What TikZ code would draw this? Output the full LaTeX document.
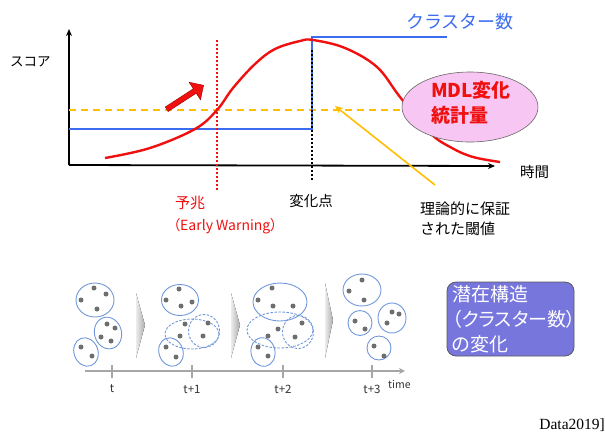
\documentclass[tikz,border=0pt]{standalone}
\usepackage{fontspec}
\setmainfont{Noto Sans CJK JP}
\newfontfamily\propjp[RawFeature=+palt]{Noto Sans CJK JP}
\newfontfamily\serifft{Liberation Serif}
\usetikzlibrary{arrows.meta,shapes.geometric,shapes.arrows}
\definecolor{lineblue}{HTML}{3A6BF0}
\definecolor{clblue}{HTML}{7097DA}
\definecolor{dotgray}{HTML}{6E6E6E}
\definecolor{ored}{HTML}{F01010}
\definecolor{oyellow}{HTML}{FFBE00}
\definecolor{pinkfill}{HTML}{F8C6F2}
\definecolor{boxblue}{HTML}{7676DC}
\tikzset{
  axis/.style={line width=1.8pt,-{Stealth[length=7pt,width=6pt]}},
  lbl/.style={inner sep=0pt,font=\fontsize{14.5}{16}\selectfont},
  cl/.style={draw=clblue,line width=0.9pt,ellipse,inner sep=0pt},
  cld/.style={draw=clblue,line width=0.9pt,dashed,dash pattern=on 2.5pt off 1.5pt,ellipse,inner sep=0pt},
  dt/.style={circle,fill=dotgray,inner sep=0pt,minimum size=5pt},
  chev/.style={left color=gray!15,right color=gray!65,draw=none},
  tick/.style={line width=1.2pt,draw=gray!70},
  tlbl/.style={inner sep=0pt,font=\fontsize{11.5}{13}\selectfont,text=black!80}
}
\begin{document}
\begin{tikzpicture}[x=1pt,y=-1pt]
\useasboundingbox (0,0) rectangle (605,432);
% axes
\coordinate (O) at (69,165);
\coordinate (ytop) at (69,29);
\coordinate (xend) at (495,166);
\draw[axis] (O) -- (ytop);
\draw[axis] (O) -- (xend);
\node[lbl,anchor=west,font=\fontsize{13.5}{15}\selectfont] (score) at (10,62) {スコア};
\node[lbl,anchor=west] (time) at (520,172) {時間};
% dashed threshold
\coordinate (th0) at (69,110);
\coordinate (th1) at (402,110);
\draw[oyellow,line width=1.8pt,dash pattern=on 7pt off 5pt] (th0) -- (th1);
% blue cluster count step
\coordinate (b0) at (69,129);
\coordinate (b1) at (312,129);
\coordinate (b2) at (312,37);
\coordinate (b3) at (447,37);
\draw[lineblue,line width=1.8pt] (b0) -- (b1) -- (b2) -- (b3);
% red curve
\draw[ored,line width=2.4pt] plot[smooth,tension=0.6] coordinates {(105,158) (150,148) (195,129) (217,110) (233,88) (255,64) (275,49) (300,41) (313,40) (345,48) (377,67) (400,97) (430,133) (452,148) (473,157) (500,162)};
% vertical dotted lines
\coordinate (rv0) at (217,40);
\coordinate (rv1) at (217,190);
\draw[ored,line width=2pt,dash pattern=on 2pt off 2pt] (rv0) -- (rv1);
\coordinate (kv0) at (312,50);
\coordinate (kv1) at (312,180);
\draw[black,line width=2pt,dash pattern=on 2pt off 2pt] (kv0) -- (kv1);
% labels
\node[lbl,anchor=center,text=lineblue,font=\fontsize{18}{20}\selectfont] (clnum) at (460,22) {クラスター数};
\node[ellipse,draw=gray!80!black,line width=0.6pt,fill=pinkfill,minimum width=136pt,minimum height=70pt,inner sep=0pt] (mdl) at (470,107) {};
\node[inner sep=0pt,align=left,text=ored,font=\fontsize{19}{25}\selectfont\bfseries,anchor=center] (mdlt) at (471,103) {MDL変化\\統計量};
% orange arrow
\coordinate (oa0) at (435,185);
\coordinate (oa1) at (335,106);
\draw[oyellow,line width=1.6pt,-{Stealth[length=8pt,width=7pt]}] (oa0) -- (oa1);
\node[lbl,anchor=west,align=left,font=\fontsize{15}{19.5}\selectfont] (theory) at (420,219) {理論的に保証\\された閾値};
\node[lbl,anchor=center] (chg) at (311,201) {変化点};
\node[lbl,anchor=west,text=ored,font=\fontsize{15}{16}\selectfont] (yocho) at (175,203) {予兆};
\node[lbl,anchor=west,text=ored,font=\propjp\fontsize{14}{16}\selectfont] (ew) at (173,226) {（Early Warning）};
% red block arrow
\node[single arrow,fill=ored,draw=red!60!black,line width=0.4pt,minimum height=44pt,minimum width=21pt,single arrow head extend=3.5pt,inner sep=1pt,rotate=33] (barrow) at (184,98) {};
% ---------- bottom ----------
\coordinate (tl0) at (85,371);
\coordinate (tl1) at (405,371);
\draw[gray!70,line width=2pt,-{Stealth[length=6pt,width=6pt]}] (tl0) -- (tl1);
\foreach \x/\n/\l in {112/t0/t,192/t1/t+1,283/t2/t+2,372/t3/t+3}{
  \coordinate (\n a) at (\x,365);
  \coordinate (\n b) at (\x,378);
  \draw[tick] (\n a) -- (\n b);
  \node[tlbl,anchor=center] (\n l) at (\x,389) {\l};
}
\node[tlbl,anchor=west,font=\fontsize{10.5}{12}\selectfont] (timel) at (388,384) {time};
% chevrons
\fill[chev] (136,293) -- (145,325) -- (136,358) -- cycle;
\fill[chev] (231,293) -- (240,325) -- (231,358) -- cycle;
\fill[chev] (325,283) -- (333,320) -- (325,358) -- cycle;
% t clusters
\node[cl,minimum width=38pt,minimum height=34pt] (c01) at (95,300) {};
\node[cl,minimum width=27pt,minimum height=32pt,rotate=15] (c02) at (108,333) {};
\node[cl,minimum width=24pt,minimum height=29pt,rotate=20] (c03) at (86,352) {};
\foreach \p in {(94,288),(106,294),(81,300),(97,309),(107,324),(115,328),(101,337),(111,341),(81,347),(92,356)}
  \node[dt] at \p {};
% t+1 clusters
\node[cl,minimum width=37pt,minimum height=31pt] (c11) at (180,300) {};
\node[cld,minimum width=54pt,minimum height=30pt] (c12) at (192,334) {};
\node[cld,minimum width=31pt,minimum height=33pt] (c13) at (204,331) {};
\node[cl,minimum width=24pt,minimum height=29pt,rotate=20] (c14) at (171,352) {};
\foreach \p in {(179,289),(166,300),(181,306),(192,302),(185,324),(208,323),(180,336),(203,336),(166,347),(176,357)}
  \node[dt] at \p {};
% t+2 clusters
\node[cl,minimum width=54pt,minimum height=38pt] (c21) at (280,302) {};
\node[cld,minimum width=66pt,minimum height=36pt] (c22) at (280,330) {};
\node[cld,minimum width=31pt,minimum height=33pt] (c23) at (298,332) {};
\node[cl,minimum width=24pt,minimum height=29pt,rotate=10] (c24) at (263,352) {};
\foreach \p in {(272,288),(258,300),(273,306),(293,306),(278,329),(302,323),(268,336),(295,337),(258,347),(268,356)}
  \node[dt] at \p {};
% t+3 clusters
\node[cl,minimum width=38pt,minimum height=32pt] (c31) at (362,290) {};
\node[cl,minimum width=24pt,minimum height=25pt] (c32) at (360,323) {};
\node[cl,minimum width=28pt,minimum height=30pt] (c33) at (392,318) {};
\node[cl,minimum width=24pt,minimum height=24pt] (c34) at (379,348) {};
\foreach \p in {(362,280),(349,291),(364,300),(355,321),(365,329),(392,312),(399,314),(387,323),(374,346),(384,356)}
  \node[dt] at \p {};
% blue box
\node[draw=black!65,line width=0.8pt,fill=boxblue,rounded corners=9pt,minimum width=127pt,minimum height=74pt,inner sep=0pt] (box) at (510.5,319) {};
\node[anchor=west,inner sep=0pt,align=left,text=white,font=\propjp\fontsize{19}{25}\selectfont] (boxt) at (452,319) {潜在構造\\（クラスター数）\\の変化};
% footer
\node[anchor=east,inner sep=0pt,font=\serifft\fontsize{15.5}{17}\selectfont] (foot) at (605,425) {Data2019]};
\end{tikzpicture}
\end{document}
